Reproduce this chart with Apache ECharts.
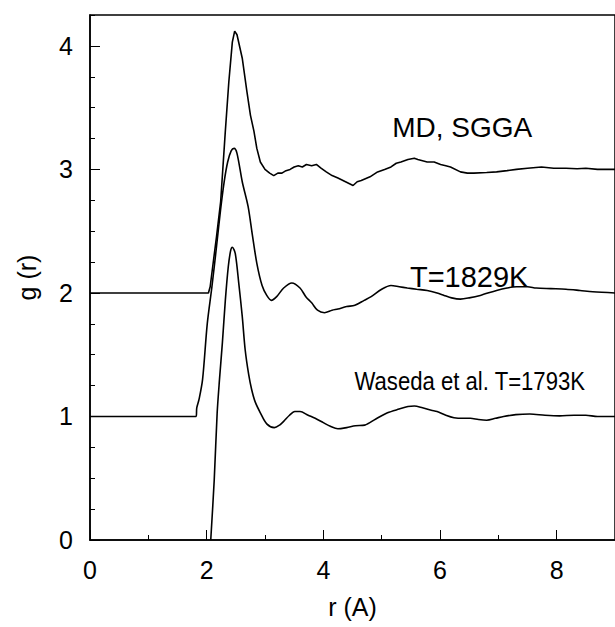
<!DOCTYPE html>
<html><head><meta charset="utf-8">
<script src="https://cdn.jsdelivr.net/npm/echarts@6/dist/echarts.min.js"></script>
<style>html,body{margin:0;padding:0;background:#fff}#c{width:615px;height:627px}</style>
</head><body><div id="c"></div>
<script>
// MD, SGGA (shifted by +2)
const rMD = [0,2.03,2.06,2.10,2.17,2.24,2.32,2.38,2.44,2.48,2.52,2.61,2.69,2.75,2.81,2.86,2.92,3.00,3.08,3.15,3.22,3.29,3.36,3.43,3.50,3.57,3.64,3.71,3.80,3.88,3.96,4.05,4.15,4.25,4.38,4.51,4.58,4.65,4.80,4.93,5.05,5.16,5.25,5.33,5.45,5.56,5.62,5.70,5.78,5.90,6.01,6.10,6.18,6.35,6.47,6.58,6.80,6.97,7.15,7.31,7.50,7.74,7.95,8.16,8.35,8.50,8.70,9.00];
const gMD = [2,2.00,2.05,2.20,2.46,2.74,3.31,3.71,4.03,4.12,4.09,3.90,3.63,3.44,3.31,3.17,3.06,3.00,2.97,2.95,2.97,2.97,2.99,3.00,3.02,3.03,3.02,3.04,3.03,3.04,3.01,2.98,2.95,2.93,2.90,2.87,2.90,2.91,2.94,2.98,3.00,3.02,3.05,3.06,3.08,3.09,3.08,3.07,3.06,3.06,3.04,3.03,3.02,2.98,2.97,2.97,2.975,2.98,2.99,3.00,3.01,3.02,3.01,3.01,3.005,3.01,3.00,3.00];
// T = 1829K (shifted by +1)
const rT = [0,1.82,1.83,1.87,1.93,2.01,2.09,2.17,2.24,2.30,2.36,2.42,2.47,2.52,2.61,2.71,2.78,2.86,2.95,3.03,3.11,3.20,3.32,3.46,3.60,3.70,3.80,3.90,4.02,4.15,4.25,4.40,4.54,4.70,4.82,5.00,5.16,5.30,5.44,5.60,5.78,5.95,6.07,6.20,6.35,6.50,6.69,6.97,7.15,7.31,7.50,7.65,7.90,8.16,8.40,8.62,9.00];
const gT = [1,1.00,1.07,1.14,1.30,1.75,2.05,2.38,2.68,2.90,3.06,3.15,3.17,3.13,2.90,2.70,2.48,2.24,2.06,1.98,1.94,1.97,2.04,2.08,2.04,1.97,1.92,1.86,1.84,1.86,1.87,1.89,1.90,1.94,1.97,2.03,2.06,2.05,2.04,2.03,2.02,2.00,1.98,1.96,1.95,1.96,1.98,2.02,2.04,2.05,2.05,2.04,2.035,2.03,2.02,2.01,2.00];
// Waseda et al. T = 1793K
const rW = [2.07,2.13,2.18,2.22,2.27,2.32,2.37,2.41,2.44,2.49,2.55,2.61,2.66,2.72,2.77,2.83,2.92,3.03,3.16,3.25,3.32,3.42,3.51,3.60,3.74,3.86,4.00,4.12,4.25,4.40,4.55,4.71,4.90,5.10,5.30,5.45,5.56,5.70,5.85,5.95,6.10,6.24,6.40,6.52,6.66,6.80,6.95,7.09,7.30,7.54,7.80,8.05,8.30,8.50,8.70,9.00];
const gW = [0,0.49,1.03,1.30,1.60,1.94,2.21,2.34,2.37,2.32,2.08,1.81,1.54,1.34,1.22,1.12,1.03,0.94,0.91,0.93,0.96,1.01,1.04,1.04,1.01,0.985,0.95,0.92,0.90,0.91,0.925,0.93,0.98,1.03,1.06,1.08,1.085,1.07,1.05,1.04,1.01,0.99,0.985,0.985,0.975,0.97,0.985,1.00,1.015,1.02,1.01,1.005,1.01,1.01,1.00,1.00];
const xTicks = [0,2,4,6,8];
const yTicks = [0,1,2,3,4];
const notes = [
  {text:'MD, SGGA', r:6.38, g:3.34},
  {text:'T=1829K', r:6.50, g:2.13},
  {text:'Waseda et al. T=1793K', r:6.51, g:1.28}
];

const pairs = (xs, ys) => xs.map((x, i) => [x, ys[i]]);
const chart = echarts.init(document.getElementById('c'), null, {renderer:'svg'});
const FONT = 'Liberation Sans, Arial, sans-serif';
const lineSeries = (name, xs, ys, smooth) => ({
  name, type:'line', data: pairs(xs, ys), xAxisIndex:0, yAxisIndex:0,
  showSymbol:false, smooth: smooth, lineStyle:{color:'#000', width:1.6}, animation:false
});
const option = {
  animation:false,
  grid:{left:90, top:15, width:529, height:525, show:true, borderColor:'#000', borderWidth:1.5, backgroundColor:'transparent'},
  xAxis:[
    {type:'value', min:0, max:9, interval:2, position:'bottom',
     axisLine:{show:true, lineStyle:{color:'#000', width:1.5}},
     axisTick:{show:true, inside:true, length:10, lineStyle:{color:'#000', width:1}},
     axisLabel:{fontSize:25, color:'#000', fontFamily:FONT, margin:17, showMaxLabel:false,
       formatter: v => xTicks.includes(v) ? String(v) : ''},
     splitLine:{show:false},
     name:'r (A)', nameLocation:'middle', nameGap:54,
     nameTextStyle:{fontSize:25, color:'#000', fontFamily:FONT}},
    {type:'value', min:0, max:9, interval:1, position:'bottom',
     axisLine:{show:false}, axisLabel:{show:false}, splitLine:{show:false},
     axisTick:{show:true, inside:true, length:5, lineStyle:{color:'#000', width:1}}}
  ],
  yAxis:[
    {type:'value', min:0, max:4.25, interval:1, position:'left',
     axisLine:{show:true, lineStyle:{color:'#000', width:1.5}},
     axisTick:{show:true, inside:true, length:10, lineStyle:{color:'#000', width:1}},
     axisLabel:{fontSize:25, color:'#000', fontFamily:FONT, margin:17, showMaxLabel:false,
       formatter: v => yTicks.includes(v) ? String(v) : ''},
     splitLine:{show:false},
     name:'g (r)', nameLocation:'middle', nameGap:51, nameRotate:90,
     nameTextStyle:{fontSize:25, color:'#000', fontFamily:FONT}},
    {type:'value', min:0, max:4.25, interval:0.25, position:'left',
     axisLine:{show:false}, axisLabel:{show:false}, splitLine:{show:false},
     axisTick:{show:true, inside:true, length:5, lineStyle:{color:'#000', width:1}}}
  ],
  series:[
    lineSeries('MD, SGGA', rMD, gMD, false),
    lineSeries('T=1829K', rT, gT, 0.3),
    lineSeries('Waseda et al. T=1793K', rW, gW, 0.3)
  ]
};
chart.setOption(option);
const noteStyle = [
  {fontSize:28, sx:1},
  {fontSize:29, sx:1},
  {fontSize:25, sx:0.885}
];
chart.setOption({
  graphic: notes.map((n, i) => {
    const p = chart.convertToPixel({xAxisIndex:0, yAxisIndex:0}, [n.r, n.g]);
    return {type:'text', x:p[0], y:p[1], scaleX: noteStyle[i].sx,
      style:{text:n.text, fill:'#000', font: noteStyle[i].fontSize + 'px ' + FONT,
        textAlign:'center', textVerticalAlign:'middle'}};
  })
});
</script></body></html>
